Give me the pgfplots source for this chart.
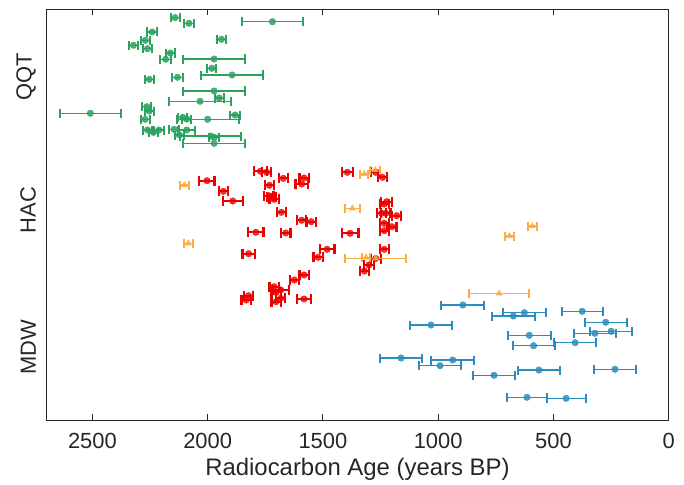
\documentclass[border=0pt]{standalone}
\usepackage{pgfplots}
\pgfplotsset{compat=1.18}
\usepackage{fontspec}
\setmainfont{Liberation Sans}
\definecolor{cg}{RGB}{44,162,95}
\definecolor{cr}{RGB}{238,0,0}
\definecolor{co}{RGB}{253,172,66}
\definecolor{cb}{RGB}{43,140,190}
\definecolor{axc}{RGB}{38,38,38}
\begin{document}
\begin{tikzpicture}
\begin{axis}[name=ax, at={(0,0)}, anchor=south west,
  scale only axis, width=622.4bp, height=411bp,
  x dir=reverse, xmin=0, xmax=2700,
  y dir=reverse, ymin=9.3, ymax=420.3,
  xtick={0,500,1000,1500,2000,2500},
  ytick={77,210,347}, yticklabels={QQT,HAC,MDW},
  yticklabel style={rotate=90, anchor=south},
  yticklabel shift=7bp,
  xticklabel shift=9bp,
  tick align=inside, major tick length=6bp,
  xtick pos=both,
  axis line style={line width=1.3bp, color=axc},
  xtick style={line width=1bp, color=axc},
  ytick style={draw=none},
  /pgf/number format/assume math mode=true,
  /pgf/number format/1000 sep={},
  ticklabel style={font=\fontsize{22}{26}\selectfont, text=axc},
  xlabel={Radiocarbon Age (years BP)},
  xlabel style={font=\fontsize{24}{28}\selectfont, text=axc, yshift=-3bp},
  clip=false,
]
\addplot[only marks, mark=*, mark size=3.3bp, color=cr, mark options={fill=cr, fill opacity=0.8, draw opacity=0.8},
  error bars/.cd, x dir=both, x explicit, error mark=|,
  error bar style={line width=2bp, color=cr},
  error mark options={line width=2.2bp, mark size=5bp, color=cr}]
table[x=x, y=y, x error=e] {
x y e
2003 180.7 33
1932 191.3 20
1891 201 43
1771 171.3 28
1744 172.3 20
1672 178.3 20
1582 178 20
1592 184 27
1732 185.3 20
1734 195.7 20
1722 196.7 20
1712 199.3 20
1680 212.3 20
1592 220.3 20
1551 221.7 20
1791 232.3 33
1661 233 20
1394 172.3 23
1382 233.3 36
1822 253.7 27
1482 249.3 32
1521 257.3 20
1271 172.3 20
1242 177.3 20
1223 201.7 24
1234 204 20
1245 213.3 20
1227 213.3 20
1180 215.7 20
1234 223.3 20
1201 226.7 20
1234 230.7 20
1234 249.3 20
1300 265 22
1320 271 20
1271 258.5 22
1582 275 20
1624 280 20
1712 286.7 20
1683 290 35
1703 292.3 20
1823 295.7 20
1833 300 20
1683 298.3 20
1703 301.7 20
1582 299 31
};
\addplot[only marks, mark=triangle*, mark size=3.5bp, color=co, mark options={fill=co, fill opacity=0.85, draw opacity=0.85},
  error bars/.cd, x dir=both, x explicit, error mark=|,
  error bar style={line width=1.4bp, color=co},
  error mark options={line width=2bp, mark size=4.5bp, color=co}]
table[x=x, y=y, x error=e] {
x y e
2101 185 20
2084 243.3 20
1320 174 17
1274 170 22
1372 208.3 33
1313 257.3 17
1271 258.3 132
592 226 20
691 236 20
735 293.3 130
};
\addplot[only marks, mark=*, mark size=3.3bp, color=cb, mark options={fill=cb, fill opacity=0.85, draw opacity=0.85},
  error bars/.cd, x dir=both, x explicit, error mark=|,
  error bar style={line width=1.4bp, color=cb},
  error mark options={line width=2bp, mark size=4.5bp, color=cb}]
table[x=x, y=y, x error=e] {
x y e
893 305 93
626 312.7 92
674 316 93
375 311.3 88
1031 325 93
273 322.3 91
605 335.3 93
320 333.3 91
250 331.3 91
406 342.7 91
586 345.7 91
1161 358 92
937 360 93
992 365.7 92
563 370 91
233 369.3 91
758 375.3 91
615 397.3 85
445 398.3 85
};
\addplot[only marks, mark=*, mark size=3.3bp, color=cg, mark options={fill=cg, fill opacity=0.85, draw opacity=0.85},
  error bars/.cd, x dir=both, x explicit, error mark=|,
  error bar style={line width=1.4bp, color=cg},
  error mark options={line width=2bp, mark size=4.5bp, color=cg}]
table[x=x, y=y, x error=e] {
x y e
2141 17.7 20
2081 23.3 20
1719 21.7 132
2241 32 20
1940 39.3 20
2270 40.3 20
2322 45.3 20
2261 48.7 20
2162 53 20
2182 59.3 25
1972 59 134
1982 68.3 20
1894 75 134
2131 77.3 22
2253 79.3 20
1972 91 134
1950 98 20
2033 101.3 134
2509 113.3 132
2264 106.7 20
2253 111 20
1881 115 20
2271 119.3 20
2108 117.3 20
2091 119 20
2000 119.3 134
2261 130 20
2235 132.3 20
2211 130 20
2146 129.3 20
2091 130 38
2123 135 20
1986 136 132
1971 137.3 22
1972 143.3 134
};
\end{axis}
\path (-46.3bp,-64.7bp) rectangle (637.7bp,420.3bp);
\end{tikzpicture}
\end{document}
